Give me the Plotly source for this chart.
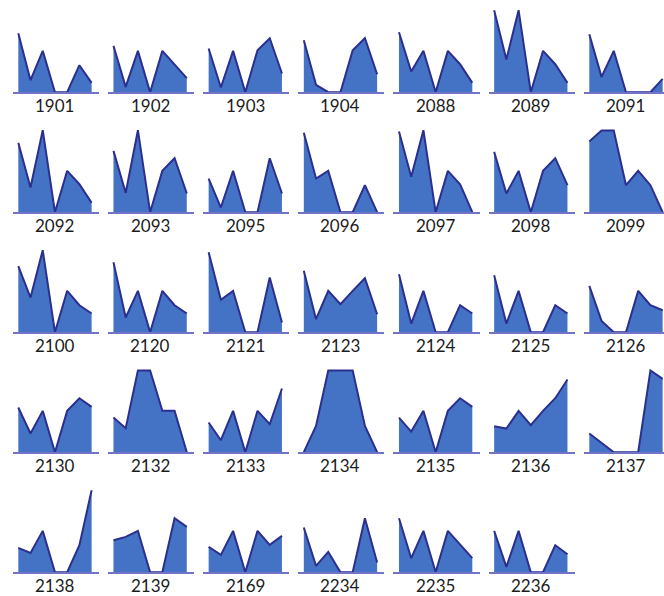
import plotly.graph_objects as go

# Seven sampling periods shared by every small area chart
periods = [0, 1, 2, 3, 4, 5, 6]

# Panel labels, read row by row (7 per row)
panel_labels = [
    "1901", "1902", "1903", "1904", "2088", "2089", "2091",
    "2092", "2093", "2095", "2096", "2097", "2098", "2099",
    "2100", "2120", "2121", "2123", "2124", "2125", "2126",
    "2130", "2132", "2133", "2134", "2135", "2136", "2137",
    "2138", "2139", "2169", "2234", "2235", "2236",
]

# Values per panel over the seven periods (shared vertical scale)
panel_values = [
    [177, 36, 124, 0, 0, 81, 28],
    [139, 16, 124, 0, 124, 83, 42],
    [131, 14, 124, 0, 126, 162, 56],
    [156, 22, 0, 0, 126, 162, 54],
    [180, 62, 124, 0, 124, 84, 28],
    [246, 98, 246, 0, 124, 84, 28],
    [174, 46, 124, 0, 0, 0, 40],
    [208, 74, 246, 0, 124, 84, 28],
    [184, 58, 246, 0, 124, 162, 56],
    [101, 14, 124, 0, 0, 162, 56],
    [238, 101, 124, 0, 0, 81, 0],
    [242, 106, 246, 0, 124, 84, 0],
    [181, 56, 124, 0, 124, 162, 81],
    [212, 245, 245, 81, 124, 81, 0],
    [198, 104, 246, 0, 124, 81, 56],
    [210, 44, 124, 0, 124, 81, 56],
    [240, 97, 124, 0, 0, 164, 29],
    [184, 39, 124, 84, 124, 162, 54],
    [174, 26, 124, 0, 0, 81, 56],
    [171, 26, 124, 0, 0, 81, 56],
    [139, 34, 0, 0, 124, 81, 66],
    [134, 56, 124, 0, 124, 162, 136],
    [104, 72, 245, 245, 124, 124, 0],
    [89, 36, 124, 0, 124, 84, 191],
    [0, 79, 245, 245, 245, 79, 0],
    [104, 62, 124, 0, 124, 162, 136],
    [78, 71, 124, 81, 124, 162, 218],
    [56, 28, 0, 0, 0, 245, 220],
    [73, 58, 124, 0, 0, 81, 246],
    [96, 106, 124, 0, 0, 162, 136],
    [76, 52, 124, 0, 124, 82, 109],
    [134, 19, 61, 0, 0, 162, 29],
    [162, 42, 124, 0, 124, 84, 42],
    [124, 16, 124, 0, 0, 81, 54],
]

W, H = 664, 596
N_COLS = 7
COL_START = 18.3      # px of the first period in column 0
COL_PITCH = 95.17     # px between columns
STEP = 12.22          # px between periods
ROW_BASE = 92.2       # px of the baseline in row 0
ROW_PITCH = 120.0
Y_MAX = 260
X_LO, X_HI = -0.46, 6.6
LABEL_SIZE = 17
LABEL_GAP = 13.0      # baseline to label centre, px

FILL = "#4472C4"
EDGE = "#2B2F8E"
BASE = "#7272C6"

fig = go.Figure()
annotations = []
layout_axes = {}

for i, (label, vals) in enumerate(zip(panel_labels, panel_values)):
    r, c = divmod(i, N_COLS)
    x0 = COL_START + COL_PITCH * c
    left = x0 + X_LO * STEP
    right = x0 + X_HI * STEP
    x_hi = X_HI
    if right > W:
        # the last column runs into the page edge: keep the same scale
        right = W
        x_hi = (W - x0) / STEP
    base = ROW_BASE + ROW_PITCH * r
    top = base - Y_MAX / 3.0

    n = i + 1
    xa = "x" if n == 1 else f"x{n}"
    ya = "y" if n == 1 else f"y{n}"
    fig.add_trace(go.Scatter(
        x=periods, y=vals, xaxis=xa, yaxis=ya,
        mode="lines", fill="tozeroy", fillcolor=FILL,
        line=dict(color=EDGE, width=2), hoverinfo="skip", showlegend=False,
    ))

    kx = "xaxis" if n == 1 else f"xaxis{n}"
    ky = "yaxis" if n == 1 else f"yaxis{n}"
    layout_axes[kx] = dict(
        domain=[left / W, right / W], range=[X_LO, x_hi], anchor=ya,
        showgrid=False, zeroline=False, showticklabels=False, ticks="",
        showline=True, linecolor=BASE, linewidth=2, fixedrange=True,
    )
    layout_axes[ky] = dict(
        domain=[1 - base / H, 1 - top / H], range=[0, Y_MAX], anchor=xa,
        visible=False, fixedrange=True,
    )

    annotations.append(dict(
        x=(x0 + 3 * STEP) / W, y=1 - (base + LABEL_GAP) / H,
        xref="paper", yref="paper", text=label, showarrow=False,
        xanchor="center", yanchor="middle",
        font=dict(family="Lato, Open Sans, sans-serif", size=LABEL_SIZE, color="#1c1c1c"),
    ))

fig.update_layout(
    width=W, height=H,
    margin=dict(l=0, r=0, t=0, b=0),
    paper_bgcolor="white", plot_bgcolor="white",
    annotations=annotations,
    **layout_axes,
)

fig.write_html("out.html")
